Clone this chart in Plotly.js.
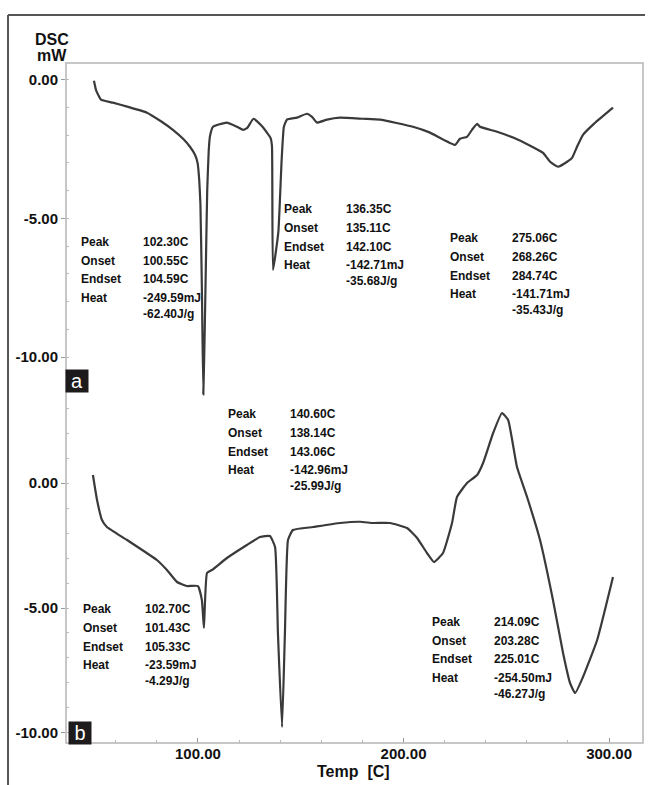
<!DOCTYPE html>
<html>
<head>
<meta charset="utf-8">
<script src="https://cdn.plot.ly/plotly-3.0.1.min.js"></script>
<style>
  html, body { margin: 0; padding: 0; background: #fff; }
  #chart { width: 649px; height: 785px; }
</style>
</head>
<body>
<div id="chart"></div>
<script>
// ---- Data: curve (a) ----
const tempA = [49.4, 50.5, 52.8, 58.6, 66, 75.2, 82, 87.8, 93, 96.1, 98.5, 99.8, 100.6, 101.2, 101.9, 102.6, 103.3, 104.0, 104.5, 105.2, 105.8, 107.3, 114, 119, 122, 124, 127, 131.4, 135.3, 136.0, 136.5, 139.1, 140.7, 141.8, 143.3, 148.2, 153.0, 155.5, 157.9, 162.8, 169.1, 180.3, 188.6, 204.6, 212.9, 225.1, 227.5, 230.9, 233.3, 235.8, 237.2, 245.5, 253.3, 261.6, 267.9, 271.3, 275.2, 279.6, 282.0, 284.4, 287.3, 292.2, 301.9];
const dscA  = [-0.04, -0.4, -0.72, -0.83, -0.98, -1.19, -1.5, -1.81, -2.15, -2.42, -2.7, -3.0, -3.6, -4.5, -7.5, -11.35, -9.0, -6.0, -4.0, -2.6, -2.06, -1.70, -1.55, -1.70, -1.81, -1.74, -1.41, -1.70, -2.1, -2.4, -6.86, -5.5, -2.9, -1.7, -1.44, -1.37, -1.23, -1.34, -1.55, -1.44, -1.37, -1.41, -1.44, -1.70, -1.91, -2.35, -2.13, -2.06, -1.81, -1.59, -1.70, -1.88, -2.09, -2.38, -2.64, -2.96, -3.14, -2.96, -2.82, -2.42, -1.99, -1.62, -1.01];

// ---- Data: curve (b) ----
const tempB = [48.9, 50.9, 53.3, 55.7, 65.5, 80.0, 84.9, 89.8, 94.6, 100.0, 101.9, 102.9, 104.4, 106.8, 114.1, 123.8, 130.2, 135.0, 137.5, 138.9, 140.9, 142.3, 143.8, 146.2, 156.0, 169.1, 178.8, 185.2, 193.4, 201.7, 206.6, 211.4, 214.8, 219.2, 223.6, 226.0, 230.9, 235.8, 238.7, 243.6, 247.9, 250.9, 255.2, 260.1, 266.4, 272.7, 277.6, 281.0, 283.5, 287.3, 294.2, 301.9];
const dscB  = [0.32, -0.68, -1.48, -1.76, -2.28, -3.08, -3.48, -3.96, -4.12, -4.12, -4.68, -5.8, -3.6, -3.48, -3.0, -2.48, -2.16, -2.12, -2.56, -6.0, -9.76, -6.0, -2.28, -1.88, -1.76, -1.6, -1.55, -1.6, -1.6, -1.8, -2.2, -2.8, -3.16, -2.8, -1.6, -0.56, 0.0, 0.32, 0.8, 2.0, 2.8, 2.52, 0.64, -0.56, -2.28, -4.68, -6.8, -8.0, -8.4, -7.76, -6.28, -3.76];

// ---- Ticks ----
const xTickVals = [100, 200, 300];
const xTickText = ['100.00', '200.00', '300.00'];
const yTickVals = [0, -5, -10];
const yTickText = ['0.00', '-5.00', '-10.00'];

// ---- Peak annotation texts ----
const rowLabels = ['Peak', 'Onset', 'Endset', 'Heat', ''];
const peakA   = ['102.30C', '136.35C', '275.06C'];
const onsetA  = ['100.55C', '135.11C', '268.26C'];
const endsetA = ['104.59C', '142.10C', '284.74C'];
const heatA   = ['-249.59mJ', '-142.71mJ', '-141.71mJ'];
const heatGA  = ['-62.40J/g', '-35.68J/g', '-35.43J/g'];
const peakB   = ['102.70C', '140.60C', '214.09C'];
const onsetB  = ['101.43C', '138.14C', '203.28C'];
const endsetB = ['105.33C', '143.06C', '225.01C'];
const heatB   = ['-23.59mJ', '-142.96mJ', '-254.50mJ'];
const heatGB  = ['-4.29J/g', '-25.99J/g', '-46.27J/g'];

// ---- Layout helpers ----
const FONT = 'Liberation Sans, Arial, Helvetica, sans-serif';
const blockPosA = [[42.9, -5.84], [141.8, -4.67], [222.6, -5.71]];
const blockPosB = [[43.9, -5.05], [114.7, 2.76], [213.7, -5.55]];
const rowOffsets = [0, 19, 37.5, 56, 72];
const valueShift = 62;

const annotations = [];
function addBlock(pos, yref, vals) {
  for (let r = 0; r < 5; r++) {
    if (rowLabels[r]) {
      annotations.push({
        x: pos[0], y: pos[1], xref: 'x', yref: yref,
        text: rowLabels[r], showarrow: false,
        xanchor: 'left', yanchor: 'middle',
        yshift: -rowOffsets[r], borderpad: 0, borderwidth: 0,
        font: {family: FONT, size: 12, color: '#111', weight: 'bold'}
      });
    }
    annotations.push({
      x: pos[0], y: pos[1], xref: 'x', yref: yref,
      text: vals[r], showarrow: false,
      xanchor: 'left', yanchor: 'middle',
      xshift: valueShift, yshift: -rowOffsets[r], borderpad: 0, borderwidth: 0,
      font: {family: FONT, size: 12, color: '#111', weight: 'bold'}
    });
  }
}
for (let i = 0; i < 3; i++) {
  addBlock(blockPosA[i], 'y', [peakA[i], onsetA[i], endsetA[i], heatA[i], heatGA[i]]);
  addBlock(blockPosB[i], 'y2', [peakB[i], onsetB[i], endsetB[i], heatB[i], heatGB[i]]);
}

// Axis titles
annotations.push({x: -0.024, y: 1.035, xref: 'paper', yref: 'paper', text: 'DSC', showarrow: false,
  xanchor: 'center', yanchor: 'middle', font: {family: FONT, size: 16, color: '#111', weight: 'bold'}});
annotations.push({x: -0.024, y: 1.011, xref: 'paper', yref: 'paper', text: 'mW', showarrow: false,
  xanchor: 'center', yanchor: 'middle', font: {family: FONT, size: 16, color: '#111', weight: 'bold'}});
annotations.push({x: 0.498, y: -0.0426, xref: 'paper', yref: 'paper', text: 'Temp  [C]', showarrow: false,
  xanchor: 'center', yanchor: 'middle', font: {family: FONT, size: 16, color: '#111', weight: 'bold'}});

// Panel labels
annotations.push({x: 0.0199, y: 0.533, xref: 'paper', yref: 'paper', text: 'a', showarrow: false,
  xanchor: 'center', yanchor: 'middle', width: 22, height: 22, bgcolor: '#1e1b1c', borderpad: 0,
  font: {family: FONT, size: 20, color: '#fff'}});
annotations.push({x: 0.0234, y: 0.0154, xref: 'paper', yref: 'paper', text: 'b', showarrow: false,
  xanchor: 'center', yanchor: 'middle', width: 22, height: 22, bgcolor: '#1e1b1c', borderpad: 0,
  font: {family: FONT, size: 20, color: '#fff'}});

const lineStyle = {color: '#3a3a3a', width: 2.2, shape: 'spline', smoothing: 0.4};

const traces = [
  {x: tempA, y: dscA, xaxis: 'x', yaxis: 'y', mode: 'lines', line: lineStyle, hoverinfo: 'skip'},
  {x: tempB, y: dscB, xaxis: 'x', yaxis: 'y2', mode: 'lines', line: lineStyle, hoverinfo: 'skip'}
];

const yCommon = {
  tickvals: yTickVals, ticktext: yTickText,
  ticks: 'outside', ticklen: 4, tickcolor: '#999', tickwidth: 1,
  tickfont: {family: FONT, size: 15, color: '#111', weight: 'bold'},
  showgrid: false, zeroline: false, showline: false,
  minor: {dtick: 1, ticks: 'inside', ticklen: 3, tickcolor: '#bbb', showgrid: false},
  fixedrange: true
};

const layout = {
  width: 649, height: 785,
  margin: {l: 66, r: 6, t: 63, b: 42},
  paper_bgcolor: '#fff', plot_bgcolor: '#fff',
  showlegend: false,
  xaxis: {
    range: [35.8, 316.5], anchor: 'y2',
    tickvals: xTickVals, ticktext: xTickText,
    ticks: 'inside', ticklen: 5, tickcolor: '#999',
    tickfont: {family: FONT, size: 15, color: '#111', weight: 'bold'},
    showgrid: false, zeroline: false, showline: false,
    minor: {dtick: 20, tick0: 0, ticks: 'inside', ticklen: 3, tickcolor: '#bbb', showgrid: false}
  },
  yaxis: Object.assign({}, yCommon, {domain: [0.5044, 1], range: [-11.55, 0.6], anchor: 'x'}),
  yaxis2: Object.assign({}, yCommon, {domain: [0, 0.5044], range: [-10.4, 3.32], anchor: 'x'}),
  shapes: [
    {type: 'rect', xref: 'paper', yref: 'paper', x0: 0, x1: 1, y0: 0, y1: 1,
     line: {color: '#b5b5b5', width: 1.5}},
    {type: 'line', xref: 'paper', yref: 'paper', x0: -0.1005, x1: -0.1005, y0: -0.08, y1: 1.0706,
     line: {color: '#555', width: 2}},
    {type: 'line', xref: 'paper', yref: 'paper', x0: -0.1005, x1: 1.0035, y0: 1.0706, y1: 1.0706,
     line: {color: '#555', width: 2}}
  ],
  annotations: annotations
};

Plotly.newPlot('chart', traces, layout, {staticPlot: true, displayModeBar: false});
</script>
</body>
</html>
